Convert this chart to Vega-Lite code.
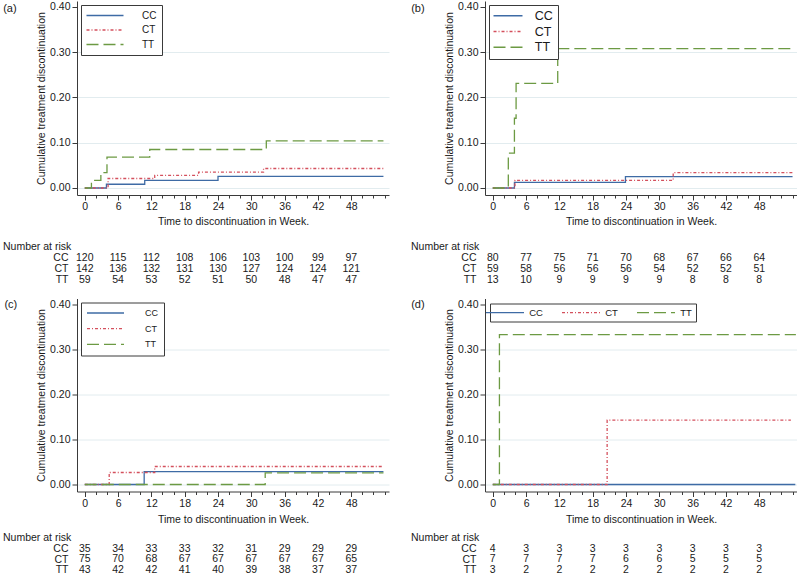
{
  "$schema": "https://vega.github.io/schema/vega-lite/v6.json",
  "background": "white",
  "padding": {"left": 3, "top": 1, "right": 0, "bottom": 0},
  "config": {
    "view": {"stroke": null},
    "font": "Liberation Sans",
    "axis": {"labelFont": "Liberation Sans", "titleFont": "Liberation Sans", "labelFontSize": 10.5, "titleFontSize": 10.5, "titleFontWeight": "normal", "labelColor": "#1a1a1a", "titleColor": "#1a1a1a", "domainColor": "#3a3a3a", "tickColor": "#3a3a3a", "tickSize": 5, "labelPadding": 2},
    "legend": {"labelFont": "Liberation Sans", "labelColor": "#1a1a1a", "strokeColor": "#3a3a3a", "fillColor": "white", "symbolType": "M-5,0H5", "symbolStrokeWidth": 1.3, "cornerRadius": 0},
    "title": {"font": "Liberation Sans", "fontWeight": "normal", "color": "#1a1a1a", "fontSize": 10.5},
    "text": {"font": "Liberation Sans", "fontSize": 10.5, "color": "#1a1a1a"}
  },
  "datasets": {
    "a_curve": [
      {"g": "CC", "w": 0, "p": 0}, {"g": "CC", "w": 3.9, "p": 0.0083}, {"g": "CC", "w": 10.8, "p": 0.0168}, {"g": "CC", "w": 24, "p": 0.0255}, {"g": "CC", "w": 53.8, "p": 0.0255},
      {"g": "CT", "w": 0, "p": 0}, {"g": "CT", "w": 4.2, "p": 0.021}, {"g": "CT", "w": 12.6, "p": 0.028}, {"g": "CT", "w": 20.5, "p": 0.035}, {"g": "CT", "w": 32.2, "p": 0.043}, {"g": "CT", "w": 53.8, "p": 0.043},
      {"g": "TT", "w": 0, "p": 0}, {"g": "TT", "w": 1.2, "p": 0.017}, {"g": "TT", "w": 2.9, "p": 0.034}, {"g": "TT", "w": 4.0, "p": 0.068}, {"g": "TT", "w": 11.7, "p": 0.085}, {"g": "TT", "w": 32.7, "p": 0.104}, {"g": "TT", "w": 53.8, "p": 0.104}
    ],
    "b_curve": [
      {"g": "CC", "w": 0, "p": 0}, {"g": "CC", "w": 3.9, "p": 0.0125}, {"g": "CC", "w": 23.9, "p": 0.025}, {"g": "CC", "w": 54, "p": 0.025},
      {"g": "CT", "w": 0, "p": 0}, {"g": "CT", "w": 4.0, "p": 0.017}, {"g": "CT", "w": 32.5, "p": 0.034}, {"g": "CT", "w": 54, "p": 0.034},
      {"g": "TT", "w": 0, "p": 0}, {"g": "TT", "w": 2.8, "p": 0.077}, {"g": "TT", "w": 3.9, "p": 0.154}, {"g": "TT", "w": 4.2, "p": 0.231}, {"g": "TT", "w": 11.7, "p": 0.308}, {"g": "TT", "w": 54, "p": 0.308}
    ],
    "c_curve": [
      {"g": "CC", "w": 0, "p": 0}, {"g": "CC", "w": 10.7, "p": 0.0286}, {"g": "CC", "w": 53.8, "p": 0.0286},
      {"g": "CT", "w": 0, "p": 0}, {"g": "CT", "w": 4.4, "p": 0.0267}, {"g": "CT", "w": 12.6, "p": 0.04}, {"g": "CT", "w": 53.8, "p": 0.04},
      {"g": "TT", "w": 0, "p": 0}, {"g": "TT", "w": 32.5, "p": 0.026}, {"g": "TT", "w": 53.8, "p": 0.026}
    ],
    "d_curve": [
      {"g": "CC", "w": 0, "p": 0}, {"g": "CC", "w": 54.5, "p": 0},
      {"g": "CT", "w": 0, "p": 0}, {"g": "CT", "w": 20.6, "p": 0.143}, {"g": "CT", "w": 53.7, "p": 0.143},
      {"g": "TT", "w": 0, "p": 0}, {"g": "TT", "w": 1.2, "p": 0.333}, {"g": "TT", "w": 54.6, "p": 0.333}
    ],
    "a_risk": [
      {"g": "CC", "w": 0, "n": 120}, {"g": "CC", "w": 6, "n": 115}, {"g": "CC", "w": 12, "n": 112}, {"g": "CC", "w": 18, "n": 108}, {"g": "CC", "w": 24, "n": 106}, {"g": "CC", "w": 30, "n": 103}, {"g": "CC", "w": 36, "n": 100}, {"g": "CC", "w": 42, "n": 99}, {"g": "CC", "w": 48, "n": 97},
      {"g": "CT", "w": 0, "n": 142}, {"g": "CT", "w": 6, "n": 136}, {"g": "CT", "w": 12, "n": 132}, {"g": "CT", "w": 18, "n": 131}, {"g": "CT", "w": 24, "n": 130}, {"g": "CT", "w": 30, "n": 127}, {"g": "CT", "w": 36, "n": 124}, {"g": "CT", "w": 42, "n": 124}, {"g": "CT", "w": 48, "n": 121},
      {"g": "TT", "w": 0, "n": 59}, {"g": "TT", "w": 6, "n": 54}, {"g": "TT", "w": 12, "n": 53}, {"g": "TT", "w": 18, "n": 52}, {"g": "TT", "w": 24, "n": 51}, {"g": "TT", "w": 30, "n": 50}, {"g": "TT", "w": 36, "n": 48}, {"g": "TT", "w": 42, "n": 47}, {"g": "TT", "w": 48, "n": 47}
    ],
    "b_risk": [
      {"g": "CC", "w": 0, "n": 80}, {"g": "CC", "w": 6, "n": 77}, {"g": "CC", "w": 12, "n": 75}, {"g": "CC", "w": 18, "n": 71}, {"g": "CC", "w": 24, "n": 70}, {"g": "CC", "w": 30, "n": 68}, {"g": "CC", "w": 36, "n": 67}, {"g": "CC", "w": 42, "n": 66}, {"g": "CC", "w": 48, "n": 64},
      {"g": "CT", "w": 0, "n": 59}, {"g": "CT", "w": 6, "n": 58}, {"g": "CT", "w": 12, "n": 56}, {"g": "CT", "w": 18, "n": 56}, {"g": "CT", "w": 24, "n": 56}, {"g": "CT", "w": 30, "n": 54}, {"g": "CT", "w": 36, "n": 52}, {"g": "CT", "w": 42, "n": 52}, {"g": "CT", "w": 48, "n": 51},
      {"g": "TT", "w": 0, "n": 13}, {"g": "TT", "w": 6, "n": 10}, {"g": "TT", "w": 12, "n": 9}, {"g": "TT", "w": 18, "n": 9}, {"g": "TT", "w": 24, "n": 9}, {"g": "TT", "w": 30, "n": 9}, {"g": "TT", "w": 36, "n": 8}, {"g": "TT", "w": 42, "n": 8}, {"g": "TT", "w": 48, "n": 8}
    ],
    "c_risk": [
      {"g": "CC", "w": 0, "n": 35}, {"g": "CC", "w": 6, "n": 34}, {"g": "CC", "w": 12, "n": 33}, {"g": "CC", "w": 18, "n": 33}, {"g": "CC", "w": 24, "n": 32}, {"g": "CC", "w": 30, "n": 31}, {"g": "CC", "w": 36, "n": 29}, {"g": "CC", "w": 42, "n": 29}, {"g": "CC", "w": 48, "n": 29},
      {"g": "CT", "w": 0, "n": 75}, {"g": "CT", "w": 6, "n": 70}, {"g": "CT", "w": 12, "n": 68}, {"g": "CT", "w": 18, "n": 67}, {"g": "CT", "w": 24, "n": 67}, {"g": "CT", "w": 30, "n": 67}, {"g": "CT", "w": 36, "n": 67}, {"g": "CT", "w": 42, "n": 67}, {"g": "CT", "w": 48, "n": 65},
      {"g": "TT", "w": 0, "n": 43}, {"g": "TT", "w": 6, "n": 42}, {"g": "TT", "w": 12, "n": 42}, {"g": "TT", "w": 18, "n": 41}, {"g": "TT", "w": 24, "n": 40}, {"g": "TT", "w": 30, "n": 39}, {"g": "TT", "w": 36, "n": 38}, {"g": "TT", "w": 42, "n": 37}, {"g": "TT", "w": 48, "n": 37}
    ],
    "d_risk": [
      {"g": "CC", "w": 0, "n": 4}, {"g": "CC", "w": 6, "n": 3}, {"g": "CC", "w": 12, "n": 3}, {"g": "CC", "w": 18, "n": 3}, {"g": "CC", "w": 24, "n": 3}, {"g": "CC", "w": 30, "n": 3}, {"g": "CC", "w": 36, "n": 3}, {"g": "CC", "w": 42, "n": 3}, {"g": "CC", "w": 48, "n": 3},
      {"g": "CT", "w": 0, "n": 7}, {"g": "CT", "w": 6, "n": 7}, {"g": "CT", "w": 12, "n": 7}, {"g": "CT", "w": 18, "n": 7}, {"g": "CT", "w": 24, "n": 6}, {"g": "CT", "w": 30, "n": 6}, {"g": "CT", "w": 36, "n": 5}, {"g": "CT", "w": 42, "n": 5}, {"g": "CT", "w": 48, "n": 5},
      {"g": "TT", "w": 0, "n": 3}, {"g": "TT", "w": 6, "n": 2}, {"g": "TT", "w": 12, "n": 2}, {"g": "TT", "w": 18, "n": 2}, {"g": "TT", "w": 24, "n": 2}, {"g": "TT", "w": 30, "n": 2}, {"g": "TT", "w": 36, "n": 2}, {"g": "TT", "w": 42, "n": 2}, {"g": "TT", "w": 48, "n": 2}
    ]
  },
  "spacing": 13.5,
  "resolve": {"scale": {"color": "independent", "strokeDash": "independent"}, "legend": {"color": "independent", "strokeDash": "independent"}},
  "vconcat": [
    {
      "spacing": 22,
      "resolve": {"scale": {"color": "independent", "strokeDash": "independent"}, "legend": {"color": "independent", "strokeDash": "independent"}},
      "hconcat": [
        {
          "spacing": 14,
          "resolve": {"scale": {"color": "independent", "strokeDash": "independent"}, "legend": {"color": "independent", "strokeDash": "independent"}},
          "vconcat": [
            {
              "width": 312, "height": 194,
              "title": {"text": "(a)", "orient": "left", "angle": 0, "anchor": "end", "frame": "group", "align": "right", "baseline": "top", "offset": 6.5, "dy": 2, "fontSize": 11},
              "data": {"name": "a_curve"},
              "mark": {"type": "line", "interpolate": "step-after", "strokeWidth": 1.3, "clip": true},
              "encoding": {
                "x": {"field": "w", "type": "quantitative", "scale": {"domain": [-1.4, 54.8], "nice": false, "zero": false},
                  "axis": {"values": [0,2,4,6,8,10,12,14,16,18,20,22,24,26,28,30,32,34,36,38,40,42,44,46,48,50,52,54], "labelExpr": "datum.value % 6 === 0 && datum.value <= 48 ? datum.label : ''", "tickSize": {"condition": {"test": "datum.value % 6 === 0 && datum.value <= 48", "value": 5}, "value": 3}, "title": "Time to discontinuation in Week.", "titlePadding": 5, "labelPadding": 1, "labelFlush": false, "labelOverlap": false, "grid": false}},
                "y": {"field": "p", "type": "quantitative", "scale": {"domain": [-0.0155, 0.413], "nice": false, "zero": false},
                  "axis": {"values": [0, 0.1, 0.2, 0.3, 0.4], "format": ".2f", "title": "Cumulative treatment discontinuation", "titlePadding": 3, "grid": true, "gridColor": "#e2ecef", "gridOpacity": {"condition": {"test": "datum.value > 0.35", "value": 0}, "value": 1}}},
                "color": {"field": "g", "type": "nominal", "scale": {"domain": ["CC", "CT", "TT"], "range": ["#3e6ba5", "#d4505d", "#6c9a43"]},
                  "legend": {"title": null, "orient": "top-left", "offset": 4, "padding": 5.5, "symbolSize": 54.8, "symbolOffset": 13.5, "labelOffset": 32, "labelFontSize": 10, "rowPadding": 4.5}},
                "strokeDash": {"field": "g", "type": "nominal", "scale": {"domain": ["CC", "CT", "TT"], "range": [[1, 0], [3, 2, 1, 2], [12, 5]]},
                  "legend": {"title": null, "orient": "top-left", "offset": 4, "padding": 5.5, "symbolSize": 54.8, "symbolOffset": 13.5, "labelOffset": 32, "labelFontSize": 10, "rowPadding": 4.5}}
              }
            },
            {
              "width": 312, "height": 33,
              "title": {"text": "Number at risk", "anchor": "start", "frame": "group", "dx": -74, "offset": 0, "fontSize": 10.5},
              "data": {"name": "a_risk"},
              "mark": {"type": "text", "fontSize": 10.5},
              "encoding": {
                "x": {"field": "w", "type": "quantitative", "scale": {"domain": [-1.4, 54.8], "nice": false, "zero": false}, "axis": null},
                "y": {"field": "g", "type": "ordinal", "scale": {"domain": ["CC", "CT", "TT"]}, "axis": {"title": null, "domain": false, "ticks": false, "labelPadding": 9, "labelFontSize": 10.5}},
                "text": {"field": "n", "type": "quantitative"}
              }
            }
          ]
        },
        {
          "spacing": 14,
          "resolve": {"scale": {"color": "independent", "strokeDash": "independent"}, "legend": {"color": "independent", "strokeDash": "independent"}},
          "vconcat": [
            {
              "width": 312, "height": 194,
              "title": {"text": "(b)", "orient": "left", "angle": 0, "anchor": "end", "frame": "group", "align": "right", "baseline": "top", "offset": 6.5, "dy": 2, "fontSize": 11},
              "data": {"name": "b_curve"},
              "mark": {"type": "line", "interpolate": "step-after", "strokeWidth": 1.3, "clip": true},
              "encoding": {
                "x": {"field": "w", "type": "quantitative", "scale": {"domain": [-1.4, 54.8], "nice": false, "zero": false},
                  "axis": {"values": [0,2,4,6,8,10,12,14,16,18,20,22,24,26,28,30,32,34,36,38,40,42,44,46,48,50,52,54], "labelExpr": "datum.value % 6 === 0 && datum.value <= 48 ? datum.label : ''", "tickSize": {"condition": {"test": "datum.value % 6 === 0 && datum.value <= 48", "value": 5}, "value": 3}, "title": "Time to discontinuation in Week.", "titlePadding": 5, "labelPadding": 1, "labelFlush": false, "labelOverlap": false, "grid": false}},
                "y": {"field": "p", "type": "quantitative", "scale": {"domain": [-0.0155, 0.413], "nice": false, "zero": false},
                  "axis": {"values": [0, 0.1, 0.2, 0.3, 0.4], "format": ".2f", "title": "Cumulative treatment discontinuation", "titlePadding": 3, "grid": true, "gridColor": "#e2ecef", "gridOpacity": {"condition": {"test": "datum.value > 0.35", "value": 0}, "value": 1}}},
                "color": {"field": "g", "type": "nominal", "scale": {"domain": ["CC", "CT", "TT"], "range": ["#3e6ba5", "#d4505d", "#6c9a43"]},
                  "legend": {"title": null, "orient": "top-left", "offset": 4, "padding": 4.5, "symbolSize": 33.6, "symbolOffset": 8.25, "labelOffset": 20.5, "labelFontSize": 12.5, "rowPadding": 2.75}},
                "strokeDash": {"field": "g", "type": "nominal", "scale": {"domain": ["CC", "CT", "TT"], "range": [[1, 0], [3, 2, 1, 2], [12, 5]]},
                  "legend": {"title": null, "orient": "top-left", "offset": 4, "padding": 4.5, "symbolSize": 33.6, "symbolOffset": 8.25, "labelOffset": 20.5, "labelFontSize": 12.5, "rowPadding": 2.75}}
              }
            },
            {
              "width": 312, "height": 33,
              "title": {"text": "Number at risk", "anchor": "start", "frame": "group", "dx": -74, "offset": 0, "fontSize": 10.5},
              "data": {"name": "b_risk"},
              "mark": {"type": "text", "fontSize": 10.5},
              "encoding": {
                "x": {"field": "w", "type": "quantitative", "scale": {"domain": [-1.4, 54.8], "nice": false, "zero": false}, "axis": null},
                "y": {"field": "g", "type": "ordinal", "scale": {"domain": ["CC", "CT", "TT"]}, "axis": {"title": null, "domain": false, "ticks": false, "labelPadding": 9, "labelFontSize": 10.5}},
                "text": {"field": "n", "type": "quantitative"}
              }
            }
          ]
        }
      ]
    },
    {
      "spacing": 22,
      "resolve": {"scale": {"color": "independent", "strokeDash": "independent"}, "legend": {"color": "independent", "strokeDash": "independent"}},
      "hconcat": [
        {
          "spacing": 8,
          "resolve": {"scale": {"color": "independent", "strokeDash": "independent"}, "legend": {"color": "independent", "strokeDash": "independent"}},
          "vconcat": [
            {
              "width": 312, "height": 193,
              "title": {"text": "(c)", "orient": "left", "angle": 0, "anchor": "end", "frame": "group", "align": "right", "baseline": "top", "offset": 6.5, "dy": 0, "fontSize": 11},
              "data": {"name": "c_curve"},
              "mark": {"type": "line", "interpolate": "step-after", "strokeWidth": 1.3, "clip": true},
              "encoding": {
                "x": {"field": "w", "type": "quantitative", "scale": {"domain": [-1.4, 54.8], "nice": false, "zero": false},
                  "axis": {"values": [0,2,4,6,8,10,12,14,16,18,20,22,24,26,28,30,32,34,36,38,40,42,44,46,48,50,52,54], "labelExpr": "datum.value % 6 === 0 && datum.value <= 48 ? datum.label : ''", "tickSize": {"condition": {"test": "datum.value % 6 === 0 && datum.value <= 48", "value": 5}, "value": 3}, "title": "Time to discontinuation in Week.", "titlePadding": 5, "labelPadding": 2, "labelFlush": false, "labelOverlap": false, "grid": false}},
                "y": {"field": "p", "type": "quantitative", "scale": {"domain": [-0.0155, 0.413], "nice": false, "zero": false},
                  "axis": {"values": [0, 0.1, 0.2, 0.3, 0.4], "format": ".2f", "title": "Cumulative treatment discontinuation", "titlePadding": 3, "grid": true, "gridColor": "#e2ecef", "gridOpacity": {"condition": {"test": "datum.value > 0.35", "value": 0}, "value": 1}}},
                "color": {"field": "g", "type": "nominal", "scale": {"domain": ["CC", "CT", "TT"], "range": ["#3e6ba5", "#d4505d", "#6c9a43"]},
                  "legend": {"title": null, "orient": "top-left", "offset": 4, "padding": 6, "symbolSize": 54.8, "symbolOffset": 14, "labelOffset": 35, "labelFontSize": 9, "rowPadding": 5.7}},
                "strokeDash": {"field": "g", "type": "nominal", "scale": {"domain": ["CC", "CT", "TT"], "range": [[1, 0], [3, 2, 1, 2], [12, 5]]},
                  "legend": {"title": null, "orient": "top-left", "offset": 4, "padding": 6, "symbolSize": 54.8, "symbolOffset": 14, "labelOffset": 35, "labelFontSize": 9, "rowPadding": 5.7}}
              }
            },
            {
              "width": 312, "height": 31.5,
              "title": {"text": "Number at risk", "anchor": "start", "frame": "group", "dx": -74, "offset": 0, "fontSize": 10.5},
              "data": {"name": "c_risk"},
              "mark": {"type": "text", "fontSize": 10.5},
              "encoding": {
                "x": {"field": "w", "type": "quantitative", "scale": {"domain": [-1.4, 54.8], "nice": false, "zero": false}, "axis": null},
                "y": {"field": "g", "type": "ordinal", "scale": {"domain": ["CC", "CT", "TT"]}, "axis": {"title": null, "domain": false, "ticks": false, "labelPadding": 9, "labelFontSize": 10.5}},
                "text": {"field": "n", "type": "quantitative"}
              }
            }
          ]
        },
        {
          "spacing": 8,
          "resolve": {"scale": {"color": "independent", "strokeDash": "independent"}, "legend": {"color": "independent", "strokeDash": "independent"}},
          "vconcat": [
            {
              "width": 312, "height": 193,
              "title": {"text": "(d)", "orient": "left", "angle": 0, "anchor": "end", "frame": "group", "align": "right", "baseline": "top", "offset": 6.5, "dy": 0, "fontSize": 11},
              "data": {"name": "d_curve"},
              "mark": {"type": "line", "interpolate": "step-after", "strokeWidth": 1.3, "clip": true},
              "encoding": {
                "x": {"field": "w", "type": "quantitative", "scale": {"domain": [-1.4, 54.8], "nice": false, "zero": false},
                  "axis": {"values": [0,2,4,6,8,10,12,14,16,18,20,22,24,26,28,30,32,34,36,38,40,42,44,46,48,50,52,54], "labelExpr": "datum.value % 6 === 0 && datum.value <= 48 ? datum.label : ''", "tickSize": {"condition": {"test": "datum.value % 6 === 0 && datum.value <= 48", "value": 5}, "value": 3}, "title": "Time to discontinuation in Week.", "titlePadding": 5, "labelPadding": 2, "labelFlush": false, "labelOverlap": false, "grid": false}},
                "y": {"field": "p", "type": "quantitative", "scale": {"domain": [-0.0155, 0.413], "nice": false, "zero": false},
                  "axis": {"values": [0, 0.1, 0.2, 0.3, 0.4], "format": ".2f", "title": "Cumulative treatment discontinuation", "titlePadding": 3, "grid": true, "gridColor": "#e2ecef", "gridOpacity": {"condition": {"test": "datum.value > 0.35", "value": 0}, "value": 1}}},
                "color": {"field": "g", "type": "nominal", "scale": {"domain": ["CC", "CT", "TT"], "range": ["#3e6ba5", "#d4505d", "#6c9a43"]},
                  "legend": {"title": null, "orient": "top-left", "direction": "horizontal", "offset": 5, "padding": 4, "symbolSize": 57.8, "symbolOffset": 6.25, "labelOffset": 19.5, "labelFontSize": 9.5, "columnPadding": 16}},
                "strokeDash": {"field": "g", "type": "nominal", "scale": {"domain": ["CC", "CT", "TT"], "range": [[1, 0], [3, 2, 1, 2], [12, 5]]},
                  "legend": {"title": null, "orient": "top-left", "direction": "horizontal", "offset": 5, "padding": 4, "symbolSize": 57.8, "symbolOffset": 6.25, "labelOffset": 19.5, "labelFontSize": 9.5, "columnPadding": 16}}
              }
            },
            {
              "width": 312, "height": 31.5,
              "title": {"text": "Number at risk", "anchor": "start", "frame": "group", "dx": -74, "offset": 0, "fontSize": 10.5},
              "data": {"name": "d_risk"},
              "mark": {"type": "text", "fontSize": 10.5},
              "encoding": {
                "x": {"field": "w", "type": "quantitative", "scale": {"domain": [-1.4, 54.8], "nice": false, "zero": false}, "axis": null},
                "y": {"field": "g", "type": "ordinal", "scale": {"domain": ["CC", "CT", "TT"]}, "axis": {"title": null, "domain": false, "ticks": false, "labelPadding": 9, "labelFontSize": 10.5}},
                "text": {"field": "n", "type": "quantitative"}
              }
            }
          ]
        }
      ]
    }
  ]
}
